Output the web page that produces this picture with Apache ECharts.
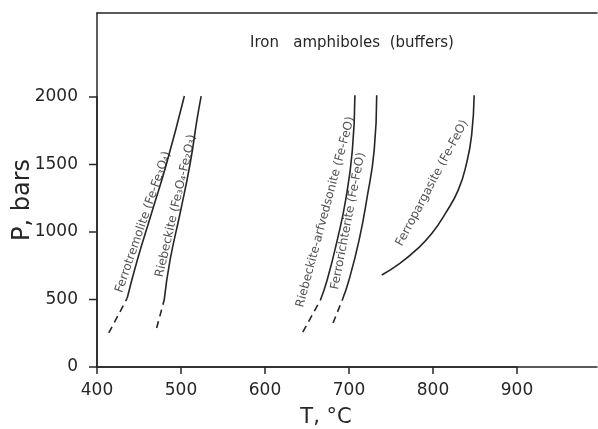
<!DOCTYPE html>
<html>
<head>
<meta charset="utf-8">
<title>Iron amphiboles (buffers)</title>
<script src="https://cdn.jsdelivr.net/npm/echarts@6/dist/echarts.min.js"></script>
<style>
html, body { margin: 0; padding: 0; background: #fff; }
#chart { width: 598px; height: 429px; }
</style>
</head>
<body>
<div id="chart"></div>
<script>
// T (°C) / P (bars), solid part and dashed extrapolation of each buffer
const tremoliteT = [436, 448, 465, 483, 504]
const tremoliteP = [511, 793, 1141, 1511, 2007]
const tremoliteDashT = [414, 436]
const tremoliteDashP = [252, 511]

const riebeckiteT = [480, 487, 499, 511, 519, 524]
const riebeckiteP = [496, 793, 1141, 1511, 1830, 2007]
const riebeckiteDashT = [471, 480]
const riebeckiteDashP = [289, 496]

const arfvedsoniteT = [666, 674, 686, 696, 704, 707]
const arfvedsoniteP = [496, 644, 940, 1236, 1606, 2013]
const arfvedsoniteDashT = [645, 666]
const arfvedsoniteDashP = [259, 496]

const richteriteT = [692, 700, 712, 721, 730, 733]
const richteriteP = [496, 644, 940, 1236, 1606, 2013]
const richteriteDashT = [681, 692]
const richteriteDashP = [326, 496]

const pargasiteT = [739, 761, 781, 799, 815, 830, 840, 846, 849]
const pargasiteP = [681, 770, 873, 992, 1140, 1310, 1510, 1717, 2013]

// curve labels: text, anchor (T, P) and slope of the text
const labelNames = [
  'Ferrotremolite (Fe-Fe₃O₄)',
  'Riebeckite (Fe₃O₄-Fe₂O₃)',
  'Riebeckite-arfvedsonite (Fe-FeO)',
  'Ferrorichterite (Fe-FeO)',
  'Ferropargasite (Fe-FeO)'
]
const labelT = [455, 494, 672, 699, 799]
const labelP = [1074, 1193, 1148, 1081, 1363]
const labelAngle = [71, 77, 75, 79, 62]

// tick values; the frame runs on to 995 °C / 2620 bars
const xTicks = [400, 500, 600, 700, 800, 900]
const yTicks = [0, 500, 1000, 1500, 2000]
const xFrameMax = 995
const yFrameMax = 2620

const ink = '#262626'
const font = 'DejaVu Sans'

function pairs(ts, ps) {
  return ts.map((t, i) => [t, ps[i]])
}

function curve(ts, ps, dashed) {
  return {
    type: 'line',
    data: pairs(ts, ps),
    smooth: dashed ? false : 0.5,
    symbol: 'none',
    silent: true,
    clip: false,
    lineStyle: { color: ink, width: 1.6, type: dashed ? [7, 5] : 'solid' }
  }
}

// tick marks: [T, P, 0] hangs below the T axis, [T, P, 1] sticks out left of the P axis
const tickData = xTicks.map(t => [t, 0, 0]).concat(yTicks.map(p => [400, p, 1]))

function renderTick(params, api) {
  const p = api.coord([api.value(0), api.value(1)])
  const down = api.value(2) === 0
  return {
    type: 'line',
    silent: true,
    shape: down
      ? { x1: p[0], y1: p[1], x2: p[0], y2: p[1] + 7 }
      : { x1: p[0] - 8, y1: p[1], x2: p[0], y2: p[1] },
    style: { stroke: ink, lineWidth: 1.5 }
  }
}

const frameLine = { show: true, onZero: false, lineStyle: { color: ink, width: 1.5 } }
const off = { show: false }

const chart = echarts.init(document.getElementById('chart'))

chart.setOption({
  animation: false,
  title: {
    text: 'Iron   amphiboles  (buffers)',
    left: 245,
    top: 31,
    textStyle: { fontFamily: font, fontSize: 15, fontWeight: 'normal', color: ink }
  },
  grid: [
    // ticked part: 400..900 °C, 0..2000 bars, holds the curves
    { left: 97, right: 81, top: 97, bottom: 62, outerBoundsMode: 'none' },
    // full frame, carries the axis names
    { left: 97, right: 1, top: 13, bottom: 62, outerBoundsMode: 'none' }
  ],
  xAxis: [
    {
      type: 'value',
      gridIndex: 0,
      min: xTicks[0],
      max: xTicks[xTicks.length - 1],
      interval: 100,
      axisLine: frameLine,
      axisTick: off,
      axisLabel: { margin: 15, fontFamily: font, fontSize: 17, color: ink, formatter: v => String(v) },
      splitLine: off
    },
    {
      type: 'value',
      gridIndex: 1,
      min: xTicks[0],
      max: xFrameMax,
      name: 'T, °C',
      nameLocation: 'middle',
      nameGap: 40,
      nameMoveOverlap: false,
      nameTextStyle: { fontFamily: font, fontSize: 21, color: ink, padding: [0, 42, 0, 0] },
      axisLine: frameLine,
      axisTick: off,
      axisLabel: off,
      splitLine: off
    },
    {
      type: 'value',
      gridIndex: 1,
      position: 'top',
      min: xTicks[0],
      max: xFrameMax,
      axisLine: frameLine,
      axisTick: off,
      axisLabel: off,
      splitLine: off
    }
  ],
  yAxis: [
    {
      type: 'value',
      gridIndex: 0,
      min: yTicks[0],
      max: yTicks[yTicks.length - 1],
      interval: 500,
      axisLine: frameLine,
      axisTick: off,
      axisLabel: { margin: 19, fontFamily: font, fontSize: 17, color: ink, formatter: v => String(v) },
      splitLine: off
    },
    {
      type: 'value',
      gridIndex: 1,
      min: yTicks[0],
      max: yFrameMax,
      name: 'P, bars',
      nameLocation: 'middle',
      nameGap: 62,
      nameMoveOverlap: false,
      nameTextStyle: { fontFamily: font, fontSize: 24, color: ink, padding: [0, 20, 0, 0] },
      axisLine: frameLine,
      axisTick: off,
      axisLabel: off,
      splitLine: off
    }
  ],
  series: [
    curve(tremoliteT, tremoliteP, false),
    curve(tremoliteDashT, tremoliteDashP, true),
    curve(riebeckiteT, riebeckiteP, false),
    curve(riebeckiteDashT, riebeckiteDashP, true),
    curve(arfvedsoniteT, arfvedsoniteP, false),
    curve(arfvedsoniteDashT, arfvedsoniteDashP, true),
    curve(richteriteT, richteriteP, false),
    curve(richteriteDashT, richteriteDashP, true),
    curve(pargasiteT, pargasiteP, false),
    {
      type: 'custom',
      silent: true,
      clip: false,
      data: tickData,
      encode: { x: 0, y: 1 },
      renderItem: renderTick
    },
    {
      type: 'scatter',
      silent: true,
      symbolSize: 0,
      clip: false,
      data: labelNames.map((name, i) => ({
        value: [labelT[i], labelP[i]],
        label: {
          show: true,
          position: 'inside',
          rotate: labelAngle[i],
          formatter: name,
          fontFamily: font,
          fontSize: 12,
          color: ink
        }
      }))
    }
  ]
})
</script>
</body>
</html>
